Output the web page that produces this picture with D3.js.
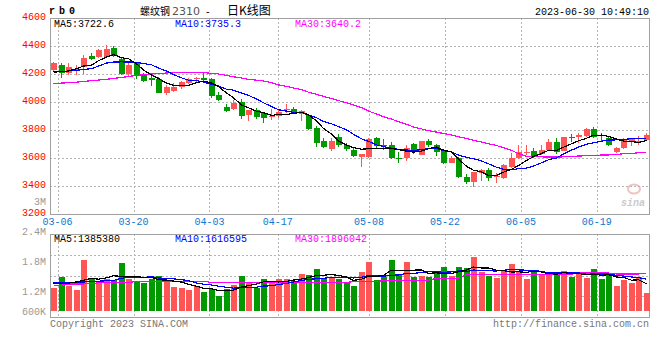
<!DOCTYPE html>
<html><head><meta charset="utf-8">
<script src="https://cdn.jsdelivr.net/npm/d3@7"></script>
<style>
body{margin:0;background:#fff}
svg{display:block}
text{font-family:"Liberation Mono","DejaVu Sans Mono",monospace;font-size:10px}
</style>
</head><body>
<svg id="c" width="660" height="360"></svg>
<script>
const dates = ["03-03","03-06","03-07","03-08","03-09","03-10","03-13","03-14","03-15","03-16","03-17",
"03-20","03-21","03-22","03-23","03-24","03-27","03-28","03-29","03-30","03-31",
"04-03","04-04","04-06","04-07","04-10","04-11","04-12","04-13","04-14",
"04-17","04-18","04-19","04-20","04-21","04-24","04-25","04-26","04-27","04-28",
"05-04","05-05","05-08","05-09","05-10","05-11","05-12","05-15","05-16","05-17","05-18","05-19",
"05-22","05-23","05-24","05-25","05-26","05-29","05-30","05-31",
"06-01","06-02","06-05","06-06","06-07","06-08","06-09","06-12","06-13","06-14","06-15","06-16",
"06-19","06-20","06-21","06-26","06-27","06-28","06-29","06-30"];

const opens = [4229,4267,4205,4226,4248,4331,4324,4324,4386,4305,4200,4276,4200,4169,4162,4062,4079,4105,4138,4165,
4174,4162,4048,3966,3950,3998,3907,3943,3919,3891,3900,3943,3950,3914,3907,3817,3721,3664,3752,3693,
3657,3610,3610,3741,3693,3693,3598,3598,3700,3625,3724,3690,3657,3567,3598,3467,3426,3495,3514,3465,
3455,3538,3602,3636,3650,3629,3657,3717,3652,3752,3748,3757,3805,3764,3745,3645,3669,3716,3719,3729];
const highs = [4285,4276,4276,4267,4333,4352,4376,4407,4400,4314,4276,4286,4210,4205,4181,4119,4133,4152,4169,4181,
4205,4174,4071,3986,4012,4024,3945,3955,3931,3950,3945,3985,3962,3943,3914,3826,3745,3745,3771,3705,
3669,3631,3745,3748,3736,3714,3640,3693,3705,3725,3735,3700,3662,3614,3610,3483,3502,3519,3526,3495,
3557,3634,3693,3693,3669,3693,3734,3741,3752,3771,3776,3815,3824,3776,3752,3681,3745,3741,3757,3776];
const lows = [4225,4174,4195,4195,4198,4300,4314,4319,4324,4195,4186,4167,4143,4117,4062,4048,4071,4095,4126,4133,
4152,4029,4007,3929,3943,3876,3866,3881,3852,3871,3883,3922,3914,3866,3800,3681,3674,3650,3681,3652,
3607,3538,3600,3674,3657,3590,3562,3579,3630,3620,3680,3614,3555,3562,3457,3412,3390,3438,3436,3425,
3448,3531,3595,3621,3598,3621,3652,3629,3652,3716,3705,3752,3741,3717,3686,3638,3662,3686,3693,3724];
const closes = [4276,4209,4248,4238,4314,4305,4371,4376,4329,4200,4267,4195,4152,4155,4067,4107,4110,4145,4162,4171,
4157,4045,4016,3936,3996,3901,3943,3893,3886,3900,3931,3950,3919,3936,3809,3709,3681,3721,3690,3662,
3614,3627,3736,3688,3688,3598,3593,3674,3660,3721,3690,3645,3567,3598,3464,3431,3500,3512,3460,3472,
3550,3602,3645,3640,3616,3657,3717,3645,3748,3740,3766,3805,3752,3755,3693,3674,3729,3736,3724,3765];
const volumes = [1185000,1736000,1272000,1066000,2611000,1633000,1530000,1633000,1581000,2472000,
1617000,1494000,1427000,1633000,1787000,1545000,1236000,1185000,1066000,1288000,
979000,1118000,773000,1102000,1324000,1787000,1494000,1185000,1633000,1442000,
1648000,1633000,1530000,1906000,1839000,2148000,1700000,1736000,1633000,1478000,
1272000,1993000,2508000,1581000,1751000,2611000,1839000,2508000,1736000,1787000,
1736000,1993000,2251000,1787000,2251000,2199000,2766000,1993000,1787000,1684000,
2096000,2405000,2045000,1633000,1993000,1890000,1993000,1890000,2045000,1736000,
1890000,1684000,2148000,1633000,1942000,1272000,1581000,1427000,1736000,912000];

// moving averages that reach back before the first visible day
const priceMa5Head = [4214,4216,4222,4238];
const priceMa10Head = [4216,4217,4222,4226,4233,4238,4257,4278,4285];
const priceMa30 = [4133,4135,4138,4142,4147,4152,4157,4162,4168,4175,4182,4190,4195,4200,4204,4207,4210,4212,4213,4213,
4210,4205,4200,4190,4180,4172,4162,4156,4150,4138,4122,4112,4100,4088,4070,4055,4040,4025,4010,3995,
3978,3960,3935,3915,3895,3878,3860,3840,3822,3808,3795,3785,3775,3764,3752,3740,3727,3714,3702,3689,
3674,3655,3630,3612,3610,3608,3607,3607,3608,3612,3614,3616,3619,3621,3622,3625,3630,3633,3637,3640];
const volMa5Head = [1380000,1400000,1420000,1480000];
const volMa10Head = [1440000,1450000,1450000,1460000,1480000,1500000,1520000,1540000,1560000];
const volMa30 = [1310000,1310000,1370000,1375000,1380000,1390000,1440000,1445000,1445000,1450000,
1460000,1500000,1505000,1510000,1512000,1515000,1515000,1518000,1520000,1520000,
1520000,1450000,1450000,1445000,1445000,1445000,1445000,1445000,1445000,1445000,
1445000,1445000,1450000,1450000,1455000,1455000,1460000,1460000,1460000,1463000,
1494000,1494000,1494000,1494000,1560000,1565000,1565000,1565000,1568000,1570000,
1570000,1670000,1670000,1675000,1680000,1860000,1865000,1870000,1870000,1872000,
1875000,1875000,1876000,1878000,1880000,1880000,1880000,1882000,1885000,1885000,
1942000,1942000,1942000,1942000,1942000,1890000,1890000,1892000,1895000,1896000];

const priceTicks = [4600,4400,4200,4000,3800,3600,3400,3200];
const volTickValues = [3000000,2400000,1800000,1200000,600000];
const volTickText = ["3M","2.4M","1.8M","1.2M","600K"];
const dateTicks = ["03-06","03-20","04-03","04-17","05-08","05-22","06-05","06-19"];
const priceLegend = [["MA5","3722.6"],["MA10","3735.3"],["MA30","3640.2"]];
const volLegend = [["MA5","1385380"],["MA10","1616595"],["MA30","1896042"]];
const maColors = ["#000000","#0000ff","#ff00ff"];

const UP = "#ff5555", DOWN = "#009900";
const L = 50, R = 650;
const pTop = 18, pBot = 214, vTop = 234, vBot = 317, vBase = 310.7;

function movingAvg(arr, n, head){
  return arr.map((_, i) => i < n - 1 ? head[i] : d3.mean(arr.slice(i - n + 1, i + 1)));
}

const svg = d3.select("#c");
const x = d3.scaleBand().domain(dates).range([L, R]);
const xg = d3.scalePoint().domain(dates).range([L, R]);
const y = d3.scaleLinear().domain([3200, 4600]).range([pBot, pTop]);
const yv = d3.scaleLinear().domain([0, 4000000]).range([vBase, vBase - 4000000 / 51500]);
const yvLab = d3.scaleLinear().domain([0, 3000000]).range([351, 201]);
const cx = d => Math.floor(x(d) + x.bandwidth() / 2);
const px = v => Math.round(v) + 0.5;

// grid
const grid = svg.append("g").attr("stroke", "#b4b4b4").attr("stroke-dasharray", "2,2").attr("shape-rendering", "crispEdges");
priceTicks.slice(1, -1).forEach(t => grid.append("line").attr("x1", L).attr("x2", R).attr("y1", px(y(t))).attr("y2", px(y(t))));
[1, 2, 3].forEach(k => { const yy = px(vTop + (vBot - vTop) * k / 4); grid.append("line").attr("x1", L).attr("x2", R).attr("y1", yy).attr("y2", yy); });
dateTicks.forEach(d => {
  const xx = px(xg(d));
  grid.append("line").attr("x1", xx).attr("x2", xx).attr("y1", pTop).attr("y2", pBot);
  grid.append("line").attr("x1", xx).attr("x2", xx).attr("y1", vTop).attr("y2", vBot);
});

// borders
const bd = svg.append("g").attr("stroke", "#a0a0a0").attr("fill", "none").attr("shape-rendering", "crispEdges");
bd.append("rect").attr("x", L + 0.5).attr("y", pTop + 0.5).attr("width", R - L - 1).attr("height", pBot - pTop);
bd.append("rect").attr("x", L + 0.5).attr("y", vTop + 0.5).attr("width", R - L - 1).attr("height", vBot - vTop);

// watermark
const wm = svg.append("g").attr("opacity", 0.6);
wm.append("ellipse").attr("cx", 634).attr("cy", 189).attr("rx", 6).attr("ry", 4.5).attr("fill", "none").attr("stroke", "#e99a9a").attr("stroke-width", 2);
wm.append("text").attr("x", 621).attr("y", 206).attr("font-family", "DejaVu Sans").attr("font-style", "italic").attr("font-weight", "bold").attr("font-size", 17).attr("fill", "#a8a8a8").text("sina");

// candles
const cg = svg.append("g").attr("shape-rendering", "crispEdges");
dates.forEach((d, i) => {
  const up = closes[i] >= opens[i];
  const col = up ? UP : DOWN;
  const c = cx(d);
  cg.append("line").attr("x1", c + 0.5).attr("x2", c + 0.5).attr("y1", y(highs[i])).attr("y2", y(lows[i])).attr("stroke", col);
  const yt = y(Math.max(opens[i], closes[i])), yb = y(Math.min(opens[i], closes[i]));
  cg.append("rect").attr("x", c - 2).attr("width", 6).attr("y", yt).attr("height", Math.max(1, yb - yt)).attr("fill", col);
  const vv = volumes[i];
  cg.append("rect").attr("x", c - 2).attr("width", 6).attr("y", yv(vv)).attr("height", vBase - yv(vv)).attr("fill", col);
});

// MA lines
const pma = [movingAvg(closes, 5, priceMa5Head), movingAvg(closes, 10, priceMa10Head), priceMa30];
const vma = [movingAvg(volumes, 5, volMa5Head), movingAvg(volumes, 10, volMa10Head), volMa30];
const lineP = d3.line().x((v, i) => cx(dates[i]) + 0.5).y(v => y(v));
const lineV = d3.line().x((v, i) => cx(dates[i]) + 0.5).y(v => yv(v));
[2, 1, 0].forEach(k => {
  svg.append("path").attr("d", lineP(pma[k])).attr("fill", "none").attr("stroke", maColors[k]).attr("stroke-width", 1.2).attr("shape-rendering", "crispEdges");
  svg.append("path").attr("d", lineV(vma[k])).attr("fill", "none").attr("stroke", maColors[k]).attr("stroke-width", 1.2).attr("shape-rendering", "crispEdges");
});

// legends
const legX = [54, 175, 295];
priceLegend.forEach((p, k) => svg.append("text").attr("x", legX[k]).attr("y", 27).attr("fill", maColors[k]).text(p[0] + ":" + p[1]));
volLegend.forEach((p, k) => svg.append("text").attr("x", legX[k]).attr("y", 242).attr("fill", maColors[k]).text(p[0] + ":" + p[1]));

// axis labels
priceTicks.forEach(t => svg.append("text").attr("x", 46).attr("y", Math.round(y(t)) + 2).attr("text-anchor", "end").attr("fill", "#ff0000").text(t));
volTickValues.forEach((v, k) => svg.append("text").attr("x", 46).attr("y", Math.min(yvLab(v), 311) + 3.5).attr("text-anchor", "end").attr("fill", "#999999").text(volTickText[k]));
dateTicks.forEach(d => svg.append("text").attr("x", xg(d)).attr("y", 225).attr("text-anchor", "middle").attr("fill", "#0a78d2").text(d));

// header
svg.append("text").attr("x", 49).attr("y", 14).attr("font-family", "Liberation Serif").attr("font-weight", "bold").attr("font-size", 15).attr("letter-spacing", 4).attr("fill", "#000").text("rb0");
const title = svg.append("text").attr("y", 15).attr("font-size", 11.5).attr("fill", "#000");
title.append("tspan").attr("x", 140).attr("font-family", "Noto Sans CJK SC").text("螺纹钢");
title.append("tspan").attr("x", 172).attr("fill", "#555").attr("font-family", "DejaVu Sans").attr("font-size", 11).text("2310");
title.append("tspan").attr("x", 206).attr("font-family", "DejaVu Sans").text("-");
title.append("tspan").attr("x", 227).attr("font-family", "Noto Sans CJK SC").attr("font-size", 12).text("日K线图");
svg.append("text").attr("x", 649).attr("y", 15).attr("text-anchor", "end").attr("fill", "#000").text("2023-06-30 10:49:10");

// footer
svg.append("text").attr("x", 50).attr("y", 327).attr("fill", "#777").text("Copyright 2023 SINA.COM");
svg.append("text").attr("x", 649).attr("y", 327).attr("text-anchor", "end").attr("fill", "#777").text("http://finance.sina.com.cn");
</script>
</body></html>
